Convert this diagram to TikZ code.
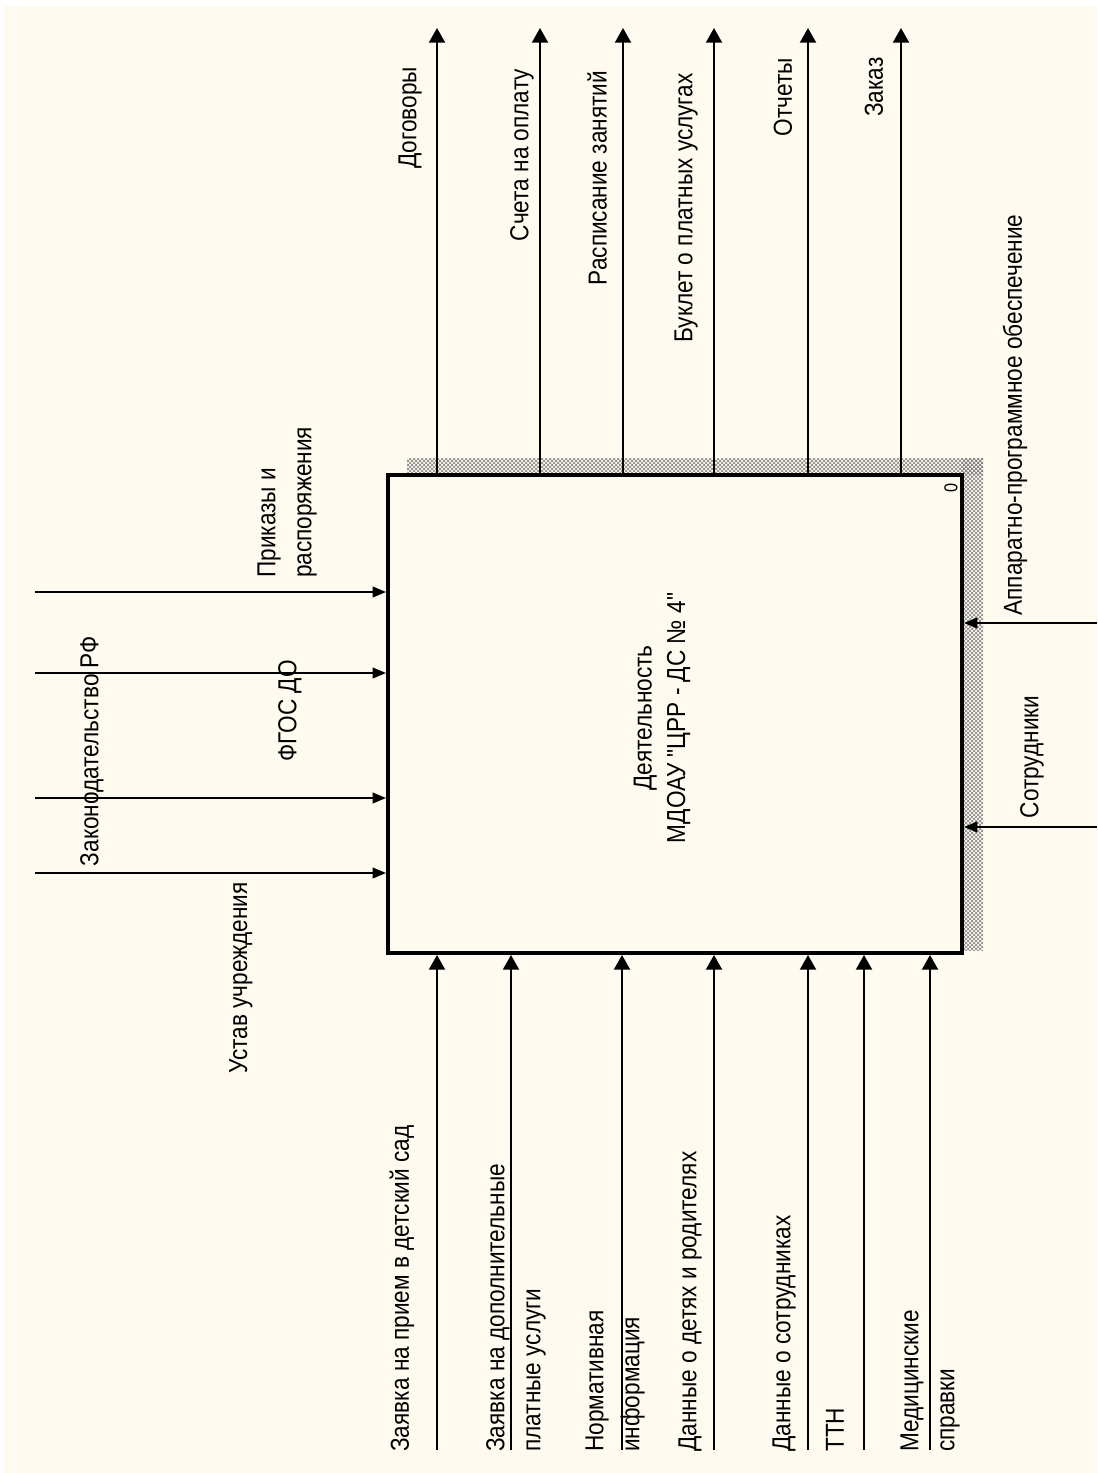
\documentclass[tikz,border=0pt]{standalone}
\usepackage{fontspec}
\setmainfont{Liberation Sans}
\newfontfamily\lbl[FakeStretch=0.87]{Liberation Sans}
\usetikzlibrary{arrows.meta,patterns}
\definecolor{cream}{RGB}{255,250,240}
\begin{document}
\begin{tikzpicture}[x=0.75pt,y=-0.75pt,
  lab/.style={rotate=90,inner sep=0pt,font=\lbl\fontsize{19.5}{27}\selectfont,align=left},
  arr/.style={line width=1.5pt,-{Triangle[width=12pt,length=11pt]}},
  carr/.style={line width=1.3pt,-{Triangle[width=8pt,length=10pt]}},
  hatch/.style={pattern=crosshatch,pattern color=black!50}]
\useasboundingbox (0,0) rectangle (1097,1473);
\fill[white] (0,0) rectangle (1097,1473);
\fill[cream] (4,6) rectangle (1097,1473);
% shadow hatch
\fill[hatch] (407,458) rectangle (983,474);
\fill[hatch] (962,458) rectangle (983,950);
% main box
\node[draw,line width=3pt,fill=cream,minimum width=430.5pt,minimum height=358.5pt,inner sep=0pt] (box) at (675,714) {};
\node[lab,align=center,font=\lbl\fontsize{19.5}{25}\selectfont] (boxtxt) at (662,718) {Деятельность\\МДОАУ "ЦРР - ДС № 4"};
\node[lab,font=\lbl\fontsize{14}{16}\selectfont] (num) at (951,488) {0};
% outputs
\foreach \n/\x in {o1/437,o2/540,o3/623,o4/714,o5/808,o6/901}{
  \coordinate (\n) at (\x,28);
  \draw[arr] (\n |- box.north) -- (\n);
}
\node[lab] (lo1) at (410,118) {Договоры};
\node[lab] (lo2) at (522,155) {Счета на оплату};
\node[lab] (lo3) at (597,178) {Расписание занятий};
\node[lab] (lo4) at (686,208) {Буклет о платных услугах};
\node[lab] (lo5) at (783,97) {Отчеты};
\node[lab] (lo6) at (874,87) {Заказ};
% inputs
\foreach \n/\x in {i1/437,i2/511,i3/622,i4/714,i5/808,i6/864,i7/930}{
  \coordinate (\n) at (\x,1450);
  \draw[arr] (\n) -- (\n |- box.south);
}
\node[lab,anchor=west] (li1) at (402,1452) {Заявка на прием в детский сад};
\node[lab,anchor=west] (li2) at (516,1452) {Заявка на дополнительные\\платные услуги};
\node[lab,anchor=west] (li3) at (615,1452) {Нормативная\\информация};
\node[lab,anchor=west] (li4) at (690,1452) {Данные о детях и родителях};
\node[lab,anchor=west] (li5) at (784,1452) {Данные о сотрудниках};
\node[lab,anchor=west] (li6) at (835,1452) {ТТН};
\node[lab,anchor=west] (li7) at (930,1452) {Медицинские\\справки};
% controls
\foreach \n/\y in {c1/592,c2/673,c3/798,c4/873}{
  \coordinate (\n) at (35,\y);
  \draw[carr] (\n) -- (\n -| box.west);
}
\node[lab,anchor=west] (lc1) at (287,578) {Приказы и\\распоряжения};
\node[lab] (lc2) at (92,751) {Законодательство РФ};
\node[lab] (lc3) at (290,711) {ФГОС ДО};
\node[lab] (lc4) at (241,978) {Устав учреждения};
% mechanisms
\foreach \n/\y in {m1/623,m2/827}{
  \coordinate (\n) at (1097,\y);
  \draw[carr] (\n) -- (\n -| box.east);
}
\node[lab] (lm1) at (1015,415) {Аппаратно-программное обеспечение};
\node[lab] (lm2) at (1032,757) {Сотрудники};
\end{tikzpicture}
\end{document}
